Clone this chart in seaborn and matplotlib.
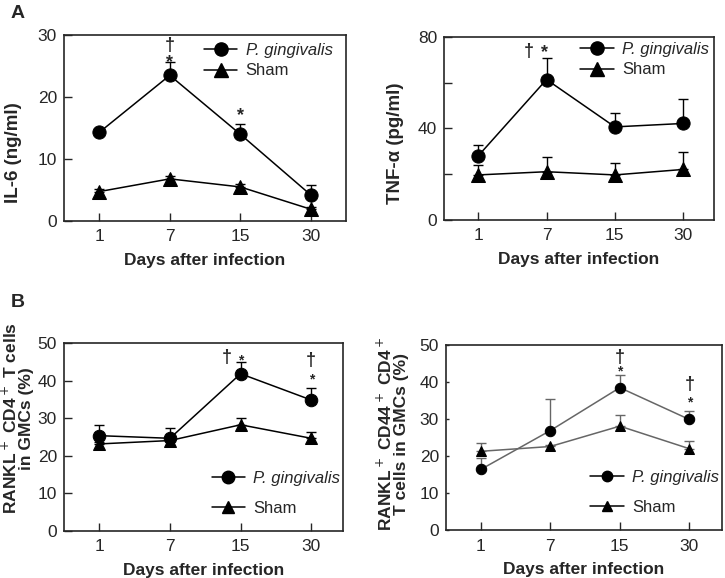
"""
Cytokine and RANKL+ T cell kinetics after P. gingivalis infection (panels A, B)
"""
import numpy as np
import pandas as pd
import matplotlib
matplotlib.use("Agg")
import matplotlib.pyplot as plt
from matplotlib.lines import Line2D
import seaborn as sns

# ---- data ----
days = ['1', '7', '15', '30']
groups = ['P. gingivalis', 'Sham']

il6_pg = [14.3, 23.5, 14.0, 4.2]
il6_pg_err = [0.5, 2.2, 1.7, 1.6]
il6_sham = [4.75, 6.8, 5.5, 1.9]
il6_sham_err = [0.4, 0.4, 0.4, 0.4]

tnf_pg = [28.0, 61.4, 40.7, 42.2]
tnf_pg_err = [5.0, 9.6, 5.9, 10.5]
tnf_sham = [19.7, 21.1, 19.7, 22.1]
tnf_sham_err = [4.3, 6.5, 5.3, 7.7]

cd4_pg = [25.4, 24.7, 41.9, 34.9]
cd4_pg_err = [2.9, 2.8, 3.0, 3.3]
cd4_sham = [23.2, 24.1, 28.3, 24.7]
cd4_sham_err = [0.6, 0.6, 1.9, 1.8]

cd44_pg = [16.5, 27.0, 38.6, 30.0]
cd44_pg_err = [3.0, 8.6, 3.4, 2.2]
cd44_sham = [21.4, 22.7, 28.2, 22.1]
cd44_sham_err = [2.2, 0.5, 2.9, 2.2]

# significance marks: (x position, y value, symbol, fontsize)
il6_marks = [(1, 28.3, '†', 13), (1, 25.6, '*', 13), (2, 17.0, '*', 13)]
tnf_marks = [(0.74, 73.5, '†', 13), (0.97, 73.0, '*', 13)]
cd4_marks = [(1.81, 46.2, '†', 13), (2.0, 45.4, '*', 10), (3.0, 45.5, '†', 13), (3.0, 40.5, '*', 10)]
cd44_marks = [(2.0, 46.8, '†', 13), (2.0, 43.0, '*', 10), (3.0, 39.5, '†', 13), (3.0, 34.6, '*', 10)]

sns.set_style('ticks')
plt.rcParams['font.family'] = ['Liberation Sans', 'DejaVu Sans']


def draw_panel(ax, pg, pg_err, sham, sham_err, marks, ylim, yticks, yticklabels,
               ylabel, label_xy, leg_xy, leg_spacing, line_color='black', msize=9.5,
               ytick_len=5.5, xlim=(-0.5, 3.45), ylabel_size=13.5):
    pos = np.arange(len(days))
    df = pd.DataFrame({
        'pos': np.concatenate([pos, pos]),
        'value': pg + sham,
        'group': [groups[0]] * len(days) + [groups[1]] * len(days),
    })
    sns.lineplot(data=df, x='pos', y='value', style='group',
                 markers={groups[0]: 'o', groups[1]: '^'}, dashes=False,
                 color=line_color, markersize=msize, markerfacecolor='black',
                 markeredgecolor='black', linewidth=1.1, legend=False, ax=ax,
                 zorder=3)

    # upward-only error bars
    for vals, errs in [(pg, pg_err), (sham, sham_err)]:
        ax.errorbar(pos, vals, yerr=[np.zeros(len(errs)), errs], fmt='none',
                    ecolor=line_color, elinewidth=1, capsize=3.5, capthick=1,
                    zorder=1)

    for x, y, sym, fs in marks:
        ax.text(x, y, sym, ha='center', va='center', fontsize=fs, fontweight='bold')

    ax.set_xlim(*xlim)
    ax.set_ylim(*ylim)
    ax.set_xticks(pos)
    ax.set_xticklabels(days)
    ax.set_yticks(yticks)
    ax.set_yticklabels(yticklabels)
    ax.tick_params(axis='x', direction='in', length=5.5, width=1, labelsize=12.5, pad=6)
    ax.tick_params(axis='y', direction='in', length=ytick_len, width=1, labelsize=12.5, pad=5)
    for sp in ax.spines.values():
        sp.set_linewidth(1.2)
        sp.set_visible(True)

    ax.set_xlabel('Days after infection', fontsize=12.5, fontweight='bold', labelpad=6)
    ax.set_ylabel(ylabel, fontsize=ylabel_size, fontweight='bold', linespacing=0.95)
    ax.yaxis.set_label_coords(*label_xy)

    handles = [
        Line2D([], [], color='black', marker='o', markersize=msize, lw=1.1),
        Line2D([], [], color='black', marker='^', markersize=msize, lw=1.1),
    ]
    leg = ax.legend(handles, groups, loc='center left', bbox_to_anchor=leg_xy,
                    frameon=False, fontsize=12, borderpad=0, borderaxespad=0,
                    handlelength=2.0, handletextpad=0.5, labelspacing=leg_spacing)
    leg.get_texts()[0].set_style('italic')


def main():
    fig = plt.figure(figsize=(7.25, 5.78), dpi=100)

    ax1 = fig.add_axes([0.0883, 0.6176, 0.389, 0.3218])
    ax2 = fig.add_axes([0.6124, 0.6194, 0.3724, 0.3166])
    ax3 = fig.add_axes([0.0883, 0.0813, 0.3848, 0.3247])
    ax4 = fig.add_axes([0.6152, 0.0822, 0.3807, 0.3201])

    draw_panel(ax1, il6_pg, il6_pg_err, il6_sham, il6_sham_err, il6_marks,
               (0, 30), [0, 10, 20, 30], ['0', '10', '20', '30'],
               'IL-6 (ng/ml)', (-0.149, 0.37), (0.496, 0.863), 0.35,
               xlim=(-0.5, 3.5))
    draw_panel(ax2, tnf_pg, tnf_pg_err, tnf_sham, tnf_sham_err, tnf_marks,
               (0, 80), [0, 20, 40, 60, 80], ['0', '', '40', '', '80'],
               'TNF-α (pg/ml)', (-0.149, 0.42), (0.505, 0.877), 0.35)
    draw_panel(ax3, cd4_pg, cd4_pg_err, cd4_sham, cd4_sham_err, cd4_marks,
               (0, 50), [0, 10, 20, 30, 40, 50], ['0', '10', '20', '30', '40', '50'],
               'RANKL$^+$ CD4$^+$ T cells\nin GMCs (%)', (-0.107, 0.60),
               (0.529, 0.199), 0.9, msize=9, ylabel_size=12.5)
    draw_panel(ax4, cd44_pg, cd44_pg_err, cd44_sham, cd44_sham_err, cd44_marks,
               (0, 50), [0, 10, 20, 30, 40, 50], ['0', '10', '20', '30', '40', '50'],
               'RANKL$^+$ CD44$^+$ CD4$^+$\nT cells in GMCs (%)', (-0.134, 0.52),
               (0.523, 0.205), 0.9, line_color='#666666', msize=7.5,
               ytick_len=2.5, xlim=(-0.5, 3.47), ylabel_size=12.5)

    fig.text(0.024, 0.977, 'A', fontsize=14, fontweight='bold', ha='center', va='center')
    fig.text(0.024, 0.476, 'B', fontsize=14, fontweight='bold', ha='center', va='center')

    fig.savefig('out.png', dpi=100)
    plt.close(fig)


if __name__ == "__main__":
    main()
